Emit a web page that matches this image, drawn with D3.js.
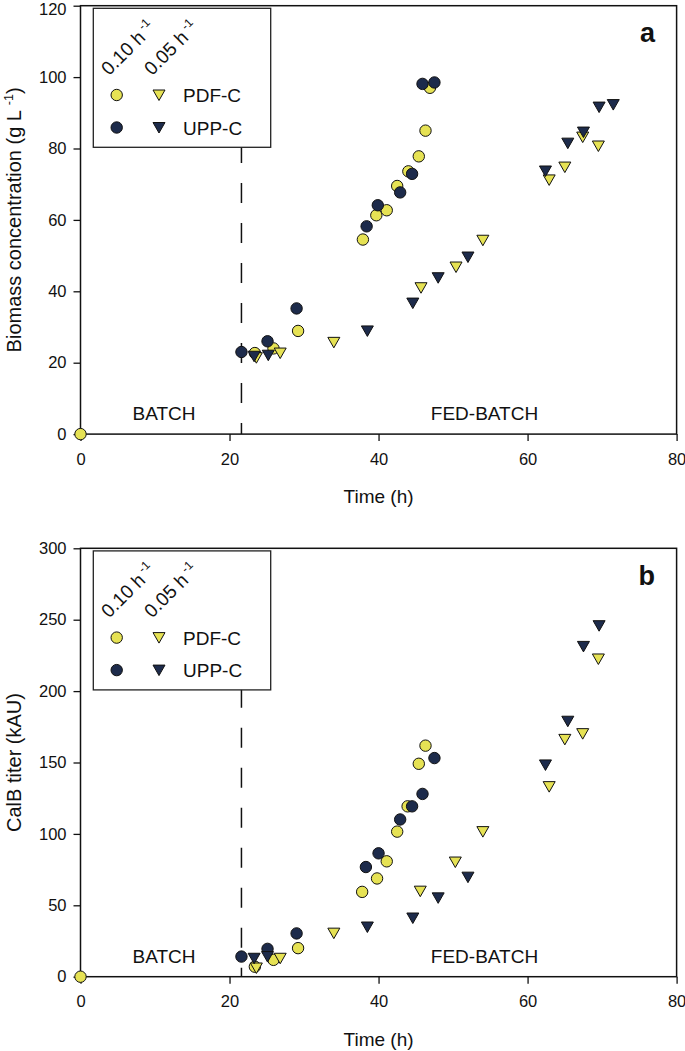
<!DOCTYPE html>
<html><head><meta charset="utf-8">
<script src="https://cdn.jsdelivr.net/npm/d3@7"></script>
<style>
body{margin:0;background:#fff}
text{font-family:"Liberation Sans",Arial,sans-serif;fill:#111}
</style>
</head><body>
<svg id="chart" width="685" height="1051"></svg>
<script>
// ---- axis ticks ----
const timeTicks = [0, 20, 40, 60, 80];
const biomassTicks = [0, 20, 40, 60, 80, 100, 120];
const titerTicks = [0, 50, 100, 150, 200, 250, 300];
const switchTime = 21.6; // batch -> fed-batch

// ---- panel a: biomass concentration (g/L) ----
const biomassPdf010 = [[0,0],[23.4,22.7],[25.9,24.0],[29.2,28.9],[37.9,54.5],[39.7,61.3],[41.1,62.7],[42.5,69.5],[44.0,73.6],[45.4,77.8],[46.3,85.0],[46.9,97.0]];
const biomassUpp010 = [[21.6,23.0],[25.1,26.0],[29.0,35.2],[38.4,58.2],[39.9,64.1],[42.9,67.7],[44.5,72.9],[45.9,98.1],[47.5,98.5]];
const biomassPdf005 = [[23.6,21.4],[26.8,22.7],[34.0,25.7],[45.7,41.0],[50.4,46.8],[54.0,54.3],[62.9,71.2],[65.0,74.8],[67.4,83.2],[69.5,80.7]];
const biomassUpp005 = [[23.3,21.8],[25.2,22.1],[38.5,28.9],[44.6,36.7],[48.0,43.8],[52.0,49.6],[62.4,73.7],[65.4,81.5],[67.5,84.6],[69.6,91.6],[71.5,92.3]];

// ---- panel b: CalB titer (kAU) ----
const titerPdf010 = [[0,0],[23.4,7.0],[25.9,11.8],[29.2,20.0],[37.8,59.4],[39.8,68.8],[41.1,80.8],[42.5,101.6],[43.9,119.3],[45.4,149.1],[46.3,161.8]];
const titerUpp010 = [[21.6,14.1],[25.1,19.5],[29.0,30.3],[38.3,76.8],[40.0,86.4],[42.9,110.1],[44.5,119.3],[45.9,128.0],[47.5,153.1]];
const titerPdf005 = [[23.6,6.1],[26.8,12.9],[34.0,30.5],[45.6,59.9],[50.3,80.3],[54.0,101.6],[62.9,133.1],[65.0,166.2],[67.4,170.2],[69.5,222.5]];
const titerUpp005 = [[23.3,12.9],[25.1,14.1],[38.5,34.8],[44.6,41.1],[48.0,55.2],[52.0,69.7],[62.4,148.3],[65.4,178.9],[67.5,231.3],[69.6,245.8]];

const YELLOW = "#e6e254";
const NAVY = "#1d2b4b";

const svg = d3.select("#chart");
const triPath = "M-6,-5L6,-5L0,5.5Z";

function drawPanel(o) {
  const top = o.top, H = 428.4, bottom = top + H;
  const x = d3.scaleLinear().domain([0, 80]).range([80.5, 676.6]);
  const y = d3.scaleLinear().domain([0, o.ymax]).range([bottom, top]);
  const g = svg.append("g");

  // axes
  const ax = g.append("g").attr("transform", `translate(0,${bottom})`)
    .call(d3.axisBottom(x).tickValues(timeTicks).tickSize(7).tickSizeOuter(0).tickPadding(12));
  const ay = g.append("g").attr("transform", `translate(${x(0)},0)`)
    .call(d3.axisLeft(y).tickValues(o.ticks).tickSize(7).tickSizeOuter(0).tickPadding(7));
  [ax, ay].forEach(a => {
    a.select(".domain").remove();
    a.selectAll("line").attr("stroke", "#111").attr("stroke-width", 1.3);
    a.selectAll("text").style("font-size", "16.5px").style("font-family", '"Liberation Sans",Arial,sans-serif').attr("fill", "#111");
  });
  // keep the topmost y label inside the page
  if (top < 10) ay.selectAll(".tick text").filter(d => d === o.ymax).attr("dy", "0.52em");

  // frame
  g.append("rect").attr("x", x(0)).attr("y", top).attr("width", x(80) - x(0)).attr("height", H)
    .attr("fill", "none").attr("stroke", "#111").attr("stroke-width", 1.5);

  // dashed switch line
  g.append("line").attr("x1", x(switchTime)).attr("x2", x(switchTime))
    .attr("y1", bottom).attr("y2", top)
    .attr("stroke", "#111").attr("stroke-width", 1.5)
    .attr("stroke-dasharray", "20,20").attr("stroke-dashoffset", o.dashOff);

  // phase labels
  g.append("text").attr("x", 164).attr("y", bottom - 14).attr("text-anchor", "middle")
    .style("font-size", "19px").text("BATCH");
  g.append("text").attr("x", 484.5).attr("y", bottom - 14).attr("text-anchor", "middle")
    .style("font-size", "19px").text("FED-BATCH");

  // data
  const pts = g.append("g");
  pts.selectAll("circle.p").data(o.pdf010).join("circle")
    .attr("cx", d => x(d[0])).attr("cy", d => y(d[1])).attr("r", 5.7)
    .attr("fill", YELLOW).attr("stroke", "#111").attr("stroke-width", 1);
  pts.selectAll("circle.u").data(o.upp010).join("circle")
    .attr("cx", d => x(d[0])).attr("cy", d => y(d[1])).attr("r", 5.7)
    .attr("fill", NAVY).attr("stroke", "#111").attr("stroke-width", 1);
  pts.selectAll("path.p").data(o.pdf005).join("path")
    .attr("d", triPath).attr("transform", d => `translate(${x(d[0])},${y(d[1])})`)
    .attr("fill", YELLOW).attr("stroke", "#111").attr("stroke-width", 1);
  pts.selectAll("path.u").data(o.upp005).join("path")
    .attr("d", triPath).attr("transform", d => `translate(${x(d[0])},${y(d[1])})`)
    .attr("fill", NAVY).attr("stroke", "#111").attr("stroke-width", 1);

  // legend
  const lg = g.append("g");
  lg.append("rect").attr("x", 93.3).attr("y", top + 2.6).attr("width", 177.4).attr("height", 139)
    .attr("fill", "#fff").attr("stroke", "#222").attr("stroke-width", 1.3);
  [["0.10 h", 109], ["0.05 h", 152]].forEach(([t, lx]) => {
    const tx = lg.append("text").attr("transform", `translate(${lx},${top + 70.5}) rotate(-45)`)
      .style("font-size", "19px");
    tx.append("tspan").text(t);
    tx.append("tspan").attr("dy", -8).style("font-size", "12px").text(" -1");
  });
  const rows = [[top + 89.3, YELLOW, "PDF-C"], [top + 121.8, NAVY, "UPP-C"]];
  rows.forEach(([ry, col, lab]) => {
    lg.append("circle").attr("cx", 116.7).attr("cy", ry).attr("r", 5.7)
      .attr("fill", col).attr("stroke", "#111").attr("stroke-width", 1);
    lg.append("path").attr("d", triPath).attr("transform", `translate(159,${ry})`)
      .attr("fill", col).attr("stroke", "#111").attr("stroke-width", 1);
    lg.append("text").attr("x", 183).attr("y", ry + 7).style("font-size", "19px").text(lab);
  });

  // axis titles
  g.append("text").attr("x", (x(0) + x(80)) / 2).attr("y", bottom + 69)
    .attr("text-anchor", "middle").style("font-size", "19px").text("Time (h)");
  const yt = g.append("text").attr("transform", `translate(21,${(top + bottom) / 2}) rotate(-90)`)
    .attr("text-anchor", "middle").style("font-size", "20px");
  yt.append("tspan").text(o.ytitle[0]);
  if (o.ytitle[1]) {
    yt.append("tspan").attr("dy", -8).style("font-size", "12.5px").text(o.ytitle[1]);
    yt.append("tspan").attr("dy", 8).text(o.ytitle[2]);
  }

  // panel letter
  g.append("text").attr("x", 655).attr("y", top + 36.7).attr("text-anchor", "end")
    .style("font-size", "27px").style("font-weight", "bold").text(o.letter);
}

drawPanel({top: 5.7, ymax: 120, ticks: biomassTicks, dashOff: 9,
  pdf010: biomassPdf010, upp010: biomassUpp010, pdf005: biomassPdf005, upp005: biomassUpp005,
  ytitle: ["Biomass concentration (g L ", "-1", ")"], letter: "a"});
drawPanel({top: 548.3, ymax: 300, ticks: titerTicks, dashOff: 11,
  pdf010: titerPdf010, upp010: titerUpp010, pdf005: titerPdf005, upp005: titerUpp005,
  ytitle: ["CalB titer (kAU)"], letter: "b"});
</script>
</body></html>
